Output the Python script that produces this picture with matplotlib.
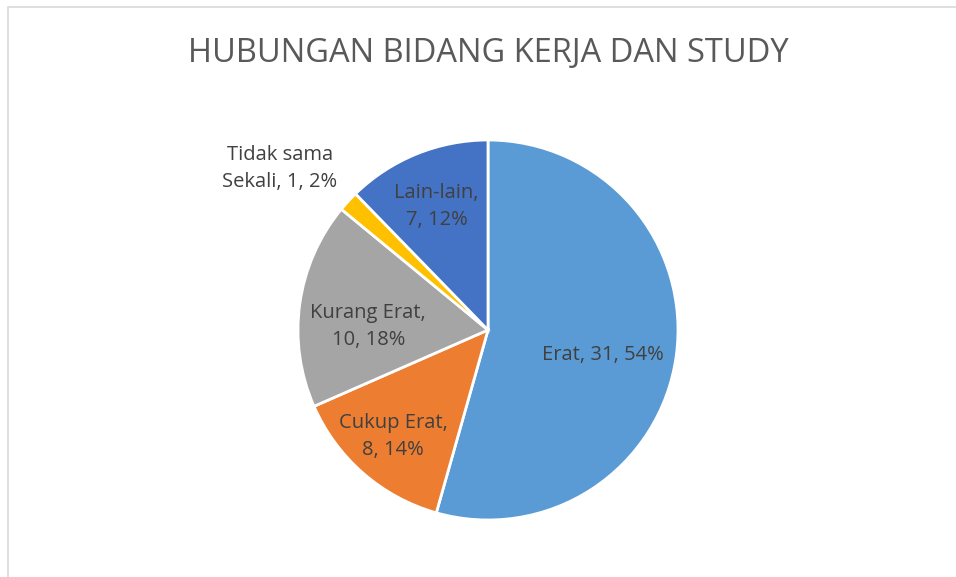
import matplotlib.pyplot as plt
import matplotlib.patches as mpatches

categories = ["Erat", "Cukup Erat", "Kurang Erat", "Tidak sama\nSekali", "Lain-lain"]
values = [31, 8, 10, 1, 7]
colors = ["#5B9BD5", "#ED7D31", "#A5A5A5", "#FFC000", "#4472C4"]
# label centres in pie units (radius = 1)
label_xy = [(0.605, -0.13), (-0.50, -0.56), (-0.63, 0.02), (-1.095, 0.85), (-0.27, 0.65)]

plt.rcParams['font.family'] = ['Open Sans', 'DejaVu Sans']

fig = plt.figure(figsize=(9.56, 5.77), dpi=100)

# chart border
fig.patches.append(mpatches.Rectangle((8 / 956, -0.05), 1.1, 1 - 7 / 577 + 0.05,
                                      transform=fig.transFigure, fill=False,
                                      edgecolor="#D9D9D9", linewidth=1.2))

ax = fig.add_axes([298 / 956, 57 / 577, 380 / 956, 380 / 577])
wedges, _ = ax.pie(values, colors=colors, startangle=90, counterclock=False,
                   radius=1, wedgeprops=dict(edgecolor="white", linewidth=2))
ax.set_xlim(-1, 1)
ax.set_ylim(-1, 1)
ax.set_aspect("equal")

total = sum(values)
for cat, v, (x, y) in zip(categories, values, label_xy):
    pct = round(v / total * 100)
    if cat == "Erat" or "\n" in cat:
        txt = f"{cat}, {v}, {pct}%"
    else:
        txt = f"{cat},\n{v}, {pct}%"
    ax.text(x, y, txt, ha="center", va="center",
            fontsize=14.5, color="#404040", linespacing=1.45, clip_on=False)

fig.text(488 / 956, 1 - 54 / 577, "HUBUNGAN BIDANG KERJA DAN STUDY", ha="center",
         va="center", fontsize=23.5, color="#595959")

fig.savefig("out.png", dpi=100)
